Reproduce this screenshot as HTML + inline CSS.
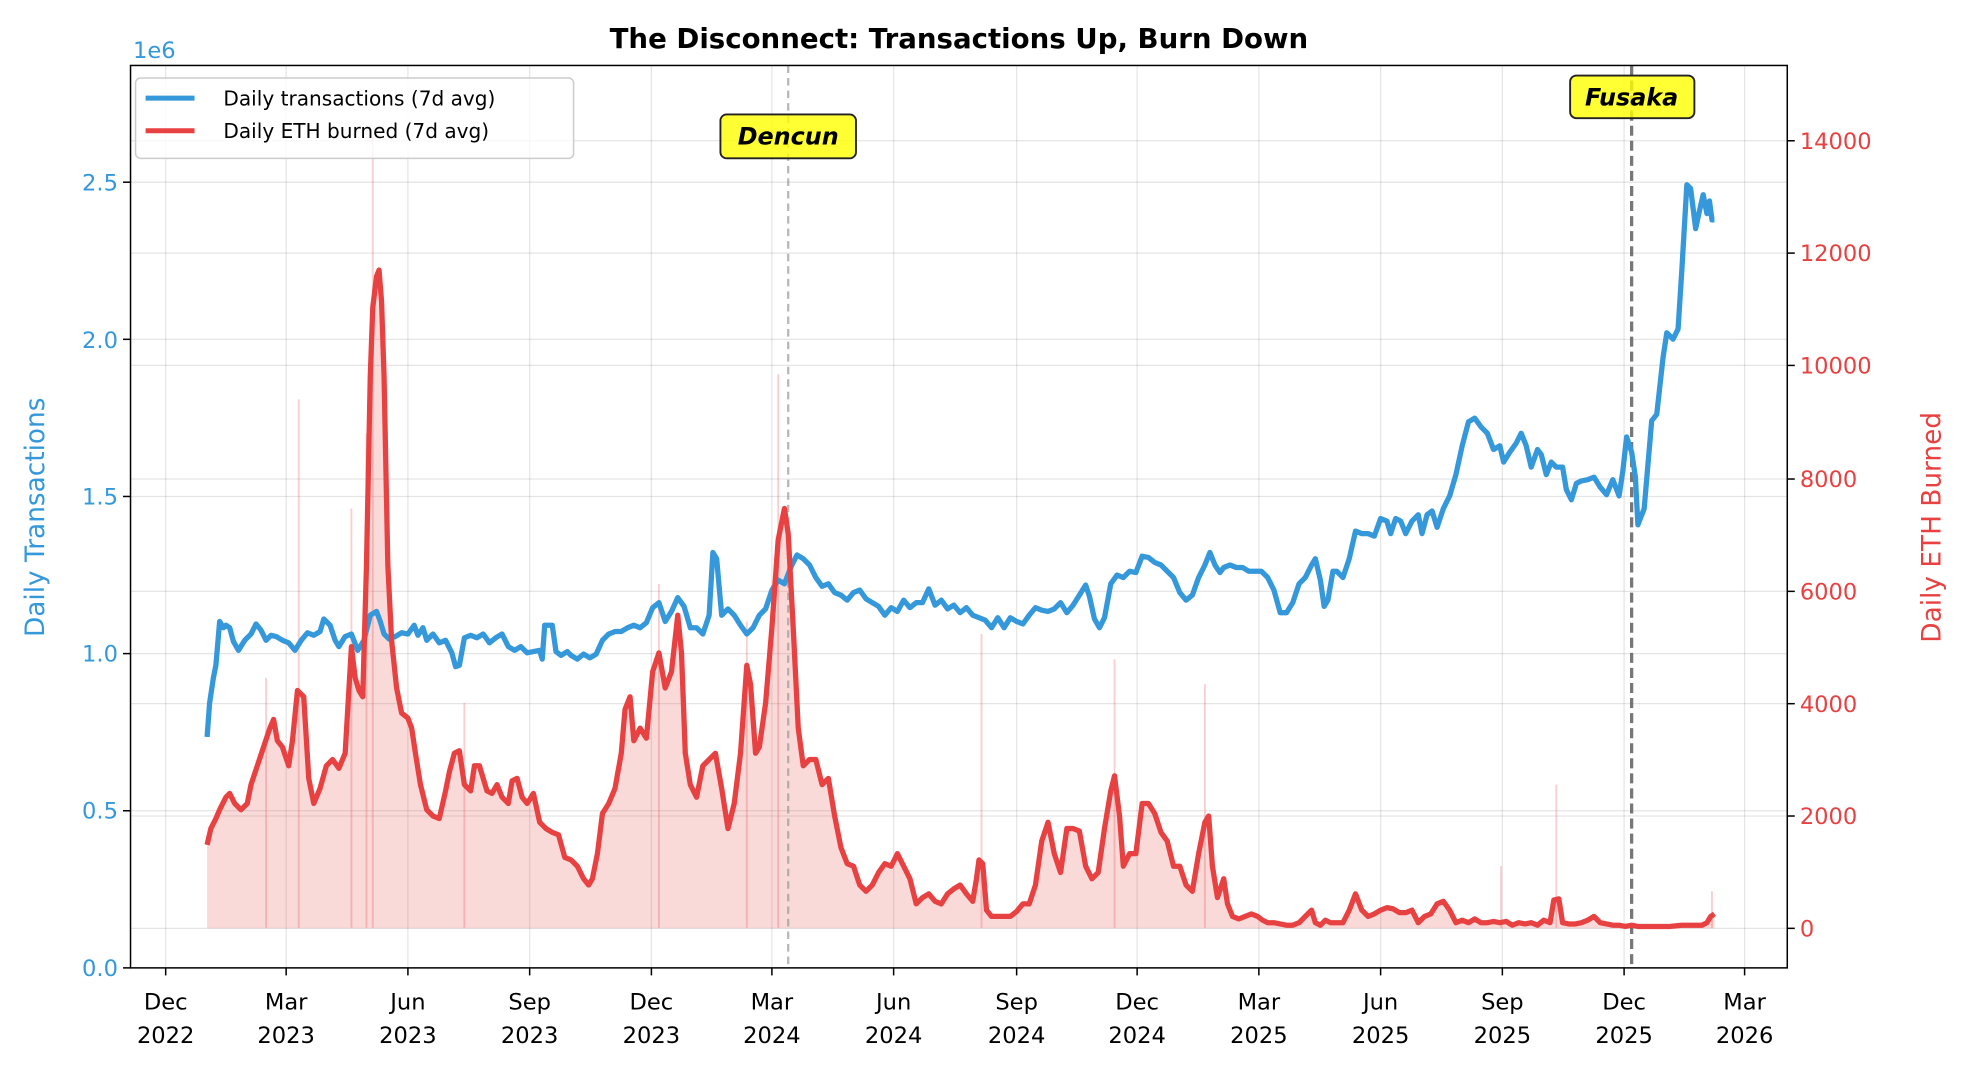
<!DOCTYPE html>
<html><head><meta charset="utf-8"><style>
html,body{margin:0;padding:0;background:#fff}
svg{display:block}
text{font-family:"DejaVu Sans","Liberation Sans",sans-serif}
</style></head><body>
<svg width="1968" height="1071" viewBox="0 0 1568 853" xmlns="http://www.w3.org/2000/svg">
<rect x="0" y="0" width="1568" height="853" fill="#fff"/>
<g stroke="#000" stroke-opacity="0.1" stroke-width="1">
<line x1="132" y1="52" x2="132" y2="771"/><line x1="228" y1="52" x2="228" y2="771"/><line x1="325" y1="52" x2="325" y2="771"/><line x1="422" y1="52" x2="422" y2="771"/><line x1="519" y1="52" x2="519" y2="771"/><line x1="615" y1="52" x2="615" y2="771"/><line x1="712" y1="52" x2="712" y2="771"/><line x1="810" y1="52" x2="810" y2="771"/><line x1="906" y1="52" x2="906" y2="771"/><line x1="1003" y1="52" x2="1003" y2="771"/><line x1="1100" y1="52" x2="1100" y2="771"/><line x1="1197" y1="52" x2="1197" y2="771"/><line x1="1294" y1="52" x2="1294" y2="771"/><line x1="1390" y1="52" x2="1390" y2="771"/>
<line x1="104" y1="645.8" x2="1424" y2="645.8"/><line x1="104" y1="520.6" x2="1424" y2="520.6"/><line x1="104" y1="395.4" x2="1424" y2="395.4"/><line x1="104" y1="270.2" x2="1424" y2="270.2"/><line x1="104" y1="145" x2="1424" y2="145"/>
<line x1="104" y1="739.5" x2="1424" y2="739.5"/><line x1="104" y1="650" x2="1424" y2="650"/><line x1="104" y1="560.5" x2="1424" y2="560.5"/><line x1="104" y1="471" x2="1424" y2="471"/><line x1="104" y1="381.5" x2="1424" y2="381.5"/><line x1="104" y1="291" x2="1424" y2="291"/><line x1="104" y1="201.5" x2="1424" y2="201.5"/><line x1="104" y1="112" x2="1424" y2="112"/>
</g>
<polygon fill="#e84142" fill-opacity="0.2" points="165,739.5 165,673 168,660 172,652 175,645 180,635 183,632 187,640 192,645 197,640 200,625 205,610 210,595 215,580 218,573 221,590 225,595 230,610 233,590 237,550 242,555 246,620 250,640 255,628 260,610 265,605 270,612 275,600 280,515 283,540 286,550 289,555 292,450 295,300 297,245 300,220 302,215 304,240 306,300 309,450 312,510 316,548 320,568 325,572 328,580 331,600 335,625 340,645 345,650 350,652 355,630 358,615 362,600 366,598 370,625 375,630 378,610 382,610 385,620 388,630 392,632 396,625 400,635 405,640 408,622 412,620 416,635 420,640 425,632 430,655 435,660 440,663 445,665 450,683 455,685 460,690 465,700 469,705 472,700 476,680 480,648 485,640 490,628 495,600 498,565 502,555 505,590 510,580 515,588 520,535 525,520 530,548 535,535 540,490 543,520 546,600 550,625 555,635 560,610 565,605 570,600 575,628 580,660 585,640 590,600 595,530 598,545 602,600 605,595 610,560 615,500 620,430 625,405 628,425 632,500 636,580 640,610 645,605 650,605 655,625 660,620 665,650 670,675 675,688 680,690 685,705 690,710 695,705 700,695 705,688 710,690 715,680 720,690 725,700 730,720 735,715 740,712 745,718 750,720 755,712 760,708 765,705 770,712 775,718 778,700 780,685 783,688 786,725 790,730 795,730 800,730 805,730 810,726 815,720 820,720 825,705 830,670 835,655 840,680 845,695 850,660 855,660 860,662 865,690 870,700 875,695 880,660 885,630 888,618 892,650 895,690 900,680 905,680 910,640 915,640 920,648 925,663 930,670 935,690 940,690 945,705 950,710 955,680 960,655 963,650 966,690 970,715 975,700 978,720 982,730 987,732 992,730 997,728 1002,730 1006,733 1010,735 1015,735 1020,736 1025,737 1030,737 1035,735 1040,730 1045,725 1048,735 1052,737 1056,733 1060,735 1065,735 1070,735 1075,725 1080,712 1085,725 1090,730 1095,728 1100,725 1105,723 1110,724 1115,727 1120,727 1125,725 1130,735 1135,730 1140,728 1145,720 1150,718 1155,725 1160,735 1165,733 1170,735 1175,732 1180,735 1185,735 1190,734 1195,735 1200,734 1205,737 1210,735 1215,736 1220,735 1225,737 1230,733 1235,735 1238,717 1242,716 1245,735 1250,736 1255,736 1260,735 1265,733 1270,730 1275,735 1280,736 1285,737 1290,737 1295,738 1300,737 1305,738 1310,738 1320,738 1330,738 1340,737 1350,737 1356,737 1360,735 1363,730 1366,728 1366,739.5"/>
<g stroke="#e84142" stroke-opacity="0.25" stroke-width="1.5">
<line x1="297" y1="739" x2="297" y2="105"/><line x1="238" y1="739" x2="238" y2="318"/><line x1="620" y1="739" x2="620" y2="298"/><line x1="280" y1="739" x2="280" y2="405"/><line x1="292" y1="739" x2="292" y2="345"/><line x1="525" y1="739" x2="525" y2="465"/><line x1="212" y1="739" x2="212" y2="540"/><line x1="782" y1="739" x2="782" y2="505"/><line x1="888" y1="739" x2="888" y2="525"/><line x1="960" y1="739" x2="960" y2="545"/><line x1="1240" y1="739" x2="1240" y2="625"/><line x1="1196" y1="739" x2="1196" y2="690"/><line x1="1364" y1="739" x2="1364" y2="710"/><line x1="595" y1="739" x2="595" y2="495"/><line x1="370" y1="739" x2="370" y2="560"/>
</g>
<line x1="628" y1="52" x2="628" y2="771" stroke="#999" stroke-opacity="0.7" stroke-width="1.8" stroke-dasharray="6,4"/>
<line x1="1300" y1="52" x2="1300" y2="771" stroke="#555" stroke-opacity="0.8" stroke-width="2.6" stroke-dasharray="8,4"/>
<polyline fill="none" stroke="#3498db" stroke-width="4.2" stroke-linejoin="round" points="165,587 167,560 170,540 172,530 175,495 178,500 180,498 183,500 186,511 190,518 195,510 200,505 204,497 208,502 212,510 216,506 220,507 225,510 230,512 235,518 240,510 245,504 250,506 255,503 258,493 263,498 267,510 270,515 275,507 280,505 285,518 290,510 295,490 300,487 303,495 306,505 310,509 315,507 320,504 325,505 330,498 333,506 337,500 340,510 345,505 350,512 355,510 360,520 363,531 366,530 370,508 375,506 380,508 385,505 390,512 395,508 400,505 405,515 410,518 415,515 420,520 425,519 430,518 432,525 434,498 440,498 443,519 447,522 452,519 455,522 460,525 465,521 470,524 475,521 480,510 485,505 490,503 495,503 500,500 505,498 510,500 515,496 520,484 525,480 530,495 535,487 540,476 545,483 550,500 555,500 560,505 565,490 568,440 571,445 575,490 580,485 585,490 590,498 595,505 600,500 605,490 610,485 615,470 620,462 625,465 630,452 635,442 640,445 645,450 650,460 655,467 660,465 665,472 670,474 675,478 680,472 685,470 690,477 695,480 700,483 705,490 710,484 715,487 720,478 725,484 730,480 735,480 740,469 745,482 750,478 755,485 760,482 765,488 770,484 775,490 780,492 785,494 790,500 795,492 800,500 805,492 810,495 815,497 820,490 825,484 830,486 835,487 840,485 845,480 850,488 855,482 860,474 865,466 868,475 872,493 876,500 880,492 885,465 890,458 895,460 900,455 905,456 910,443 915,444 920,448 925,450 930,455 935,460 940,472 945,478 950,474 955,460 960,450 964,440 968,450 972,456 975,452 980,450 985,452 990,452 995,455 1000,455 1005,455 1010,460 1015,470 1020,488 1025,488 1030,480 1035,465 1040,460 1045,450 1048,445 1052,462 1055,483 1058,478 1062,455 1065,455 1070,460 1075,445 1080,423 1085,425 1090,425 1095,427 1100,413 1105,415 1108,425 1112,413 1116,415 1120,425 1125,415 1130,410 1133,425 1137,410 1141,407 1145,420 1150,405 1155,395 1160,378 1165,355 1170,336 1175,333 1180,340 1185,345 1190,358 1195,355 1198,368 1203,360 1208,353 1212,345 1216,355 1220,372 1225,358 1228,362 1232,378 1236,368 1240,372 1245,372 1248,390 1252,398 1256,385 1260,383 1265,382 1270,380 1275,388 1280,394 1285,382 1290,395 1293,375 1296,348 1300,360 1303,380 1305,418 1310,405 1313,370 1316,335 1320,330 1325,285 1328,265 1333,270 1337,262 1340,215 1344,147 1347,150 1351,182 1354,168 1357,155 1360,170 1362,160 1364,175 1366,175"/>
<polyline fill="none" stroke="#e84142" stroke-width="4.2" stroke-linejoin="round" points="165,673 168,660 172,652 175,645 180,635 183,632 187,640 192,645 197,640 200,625 205,610 210,595 215,580 218,573 221,590 225,595 230,610 233,590 237,550 242,555 246,620 250,640 255,628 260,610 265,605 270,612 275,600 280,515 283,540 286,550 289,555 292,450 295,300 297,245 300,220 302,215 304,240 306,300 309,450 312,510 316,548 320,568 325,572 328,580 331,600 335,625 340,645 345,650 350,652 355,630 358,615 362,600 366,598 370,625 375,630 378,610 382,610 385,620 388,630 392,632 396,625 400,635 405,640 408,622 412,620 416,635 420,640 425,632 430,655 435,660 440,663 445,665 450,683 455,685 460,690 465,700 469,705 472,700 476,680 480,648 485,640 490,628 495,600 498,565 502,555 505,590 510,580 515,588 520,535 525,520 530,548 535,535 540,490 543,520 546,600 550,625 555,635 560,610 565,605 570,600 575,628 580,660 585,640 590,600 595,530 598,545 602,600 605,595 610,560 615,500 620,430 625,405 628,425 632,500 636,580 640,610 645,605 650,605 655,625 660,620 665,650 670,675 675,688 680,690 685,705 690,710 695,705 700,695 705,688 710,690 715,680 720,690 725,700 730,720 735,715 740,712 745,718 750,720 755,712 760,708 765,705 770,712 775,718 778,700 780,685 783,688 786,725 790,730 795,730 800,730 805,730 810,726 815,720 820,720 825,705 830,670 835,655 840,680 845,695 850,660 855,660 860,662 865,690 870,700 875,695 880,660 885,630 888,618 892,650 895,690 900,680 905,680 910,640 915,640 920,648 925,663 930,670 935,690 940,690 945,705 950,710 955,680 960,655 963,650 966,690 970,715 975,700 978,720 982,730 987,732 992,730 997,728 1002,730 1006,733 1010,735 1015,735 1020,736 1025,737 1030,737 1035,735 1040,730 1045,725 1048,735 1052,737 1056,733 1060,735 1065,735 1070,735 1075,725 1080,712 1085,725 1090,730 1095,728 1100,725 1105,723 1110,724 1115,727 1120,727 1125,725 1130,735 1135,730 1140,728 1145,720 1150,718 1155,725 1160,735 1165,733 1170,735 1175,732 1180,735 1185,735 1190,734 1195,735 1200,734 1205,737 1210,735 1215,736 1220,735 1225,737 1230,733 1235,735 1238,717 1242,716 1245,735 1250,736 1255,736 1260,735 1265,733 1270,730 1275,735 1280,736 1285,737 1290,737 1295,738 1300,737 1305,738 1310,738 1320,738 1330,738 1340,737 1350,737 1356,737 1360,735 1363,730 1366,728"/>
<rect x="104" y="52" width="1320" height="719" fill="none" stroke="#000" stroke-width="1.2"/>
<g stroke="#000" stroke-width="1.2">
<line x1="132" y1="771" x2="132" y2="777"/><line x1="228" y1="771" x2="228" y2="777"/><line x1="325" y1="771" x2="325" y2="777"/><line x1="422" y1="771" x2="422" y2="777"/><line x1="519" y1="771" x2="519" y2="777"/><line x1="615" y1="771" x2="615" y2="777"/><line x1="712" y1="771" x2="712" y2="777"/><line x1="810" y1="771" x2="810" y2="777"/><line x1="906" y1="771" x2="906" y2="777"/><line x1="1003" y1="771" x2="1003" y2="777"/><line x1="1100" y1="771" x2="1100" y2="777"/><line x1="1197" y1="771" x2="1197" y2="777"/><line x1="1294" y1="771" x2="1294" y2="777"/><line x1="1390" y1="771" x2="1390" y2="777"/>
<line x1="98" y1="771" x2="104" y2="771"/><line x1="98" y1="645.8" x2="104" y2="645.8"/><line x1="98" y1="520.6" x2="104" y2="520.6"/><line x1="98" y1="395.4" x2="104" y2="395.4"/><line x1="98" y1="270.2" x2="104" y2="270.2"/><line x1="98" y1="145" x2="104" y2="145"/>
<line x1="1424" y1="739.5" x2="1430" y2="739.5"/><line x1="1424" y1="650" x2="1430" y2="650"/><line x1="1424" y1="560.5" x2="1430" y2="560.5"/><line x1="1424" y1="471" x2="1430" y2="471"/><line x1="1424" y1="381.5" x2="1430" y2="381.5"/><line x1="1424" y1="291" x2="1430" y2="291"/><line x1="1424" y1="201.5" x2="1430" y2="201.5"/><line x1="1424" y1="112" x2="1430" y2="112"/>
</g>
<g font-size="18" fill="#3498db" text-anchor="end">
<text x="94" y="777.5">0.0</text><text x="94" y="652">0.5</text><text x="94" y="527">1.0</text><text x="94" y="402">1.5</text><text x="94" y="277">2.0</text><text x="94" y="151.5">2.5</text>
</g>
<text x="106" y="46" font-size="18" fill="#3498db">1e6</text>
<g font-size="18" fill="#e84142">
<text x="1434" y="746">0</text><text x="1434" y="656.5">2000</text><text x="1434" y="567">4000</text><text x="1434" y="477.5">6000</text><text x="1434" y="388">8000</text><text x="1434" y="297.5">10000</text><text x="1434" y="208">12000</text><text x="1434" y="118.5">14000</text>
</g>
<g font-size="18" fill="#000" text-anchor="middle">
<text x="132" y="804">Dec</text><text x="132" y="831">2022</text>
<text x="228" y="804">Mar</text><text x="228" y="831">2023</text>
<text x="325" y="804">Jun</text><text x="325" y="831">2023</text>
<text x="422" y="804">Sep</text><text x="422" y="831">2023</text>
<text x="519" y="804">Dec</text><text x="519" y="831">2023</text>
<text x="615" y="804">Mar</text><text x="615" y="831">2024</text>
<text x="712" y="804">Jun</text><text x="712" y="831">2024</text>
<text x="810" y="804">Sep</text><text x="810" y="831">2024</text>
<text x="906" y="804">Dec</text><text x="906" y="831">2024</text>
<text x="1003" y="804">Mar</text><text x="1003" y="831">2025</text>
<text x="1100" y="804">Jun</text><text x="1100" y="831">2025</text>
<text x="1197" y="804">Sep</text><text x="1197" y="831">2025</text>
<text x="1294" y="804">Dec</text><text x="1294" y="831">2025</text>
<text x="1390" y="804">Mar</text><text x="1390" y="831">2026</text>
</g>
<text x="764" y="38" font-size="22" font-weight="bold" text-anchor="middle">The Disconnect: Transactions Up, Burn Down</text>
<text transform="translate(35,412) rotate(-90)" font-size="21" fill="#3498db" text-anchor="middle">Daily Transactions</text>
<text transform="translate(1546,420) rotate(-90)" font-size="21" fill="#e84142" text-anchor="middle">Daily ETH Burned</text>
<rect x="574" y="91" width="108" height="35" rx="5" fill="#ffff00" fill-opacity="0.8" stroke="#222" stroke-width="1.5"/>
<text x="628" y="115" font-size="19" font-weight="bold" font-style="italic" text-anchor="middle">Dencun</text>
<rect x="1251" y="60" width="99" height="34" rx="5" fill="#ffff00" fill-opacity="0.8" stroke="#222" stroke-width="1.5"/>
<text x="1300" y="84" font-size="19" font-weight="bold" font-style="italic" text-anchor="middle">Fusaka</text>
<rect x="108" y="62" width="349" height="64" rx="4" fill="#fff" fill-opacity="0.8" stroke="#ccc" stroke-width="1.2"/>
<line x1="116" y1="78" x2="155" y2="78" stroke="#3498db" stroke-width="4"/>
<line x1="116" y1="104" x2="155" y2="104" stroke="#e84142" stroke-width="4"/>
<text x="178" y="84" font-size="16">Daily transactions (7d avg)</text>
<text x="178" y="110" font-size="16">Daily ETH burned (7d avg)</text>
</svg>
</body></html>
